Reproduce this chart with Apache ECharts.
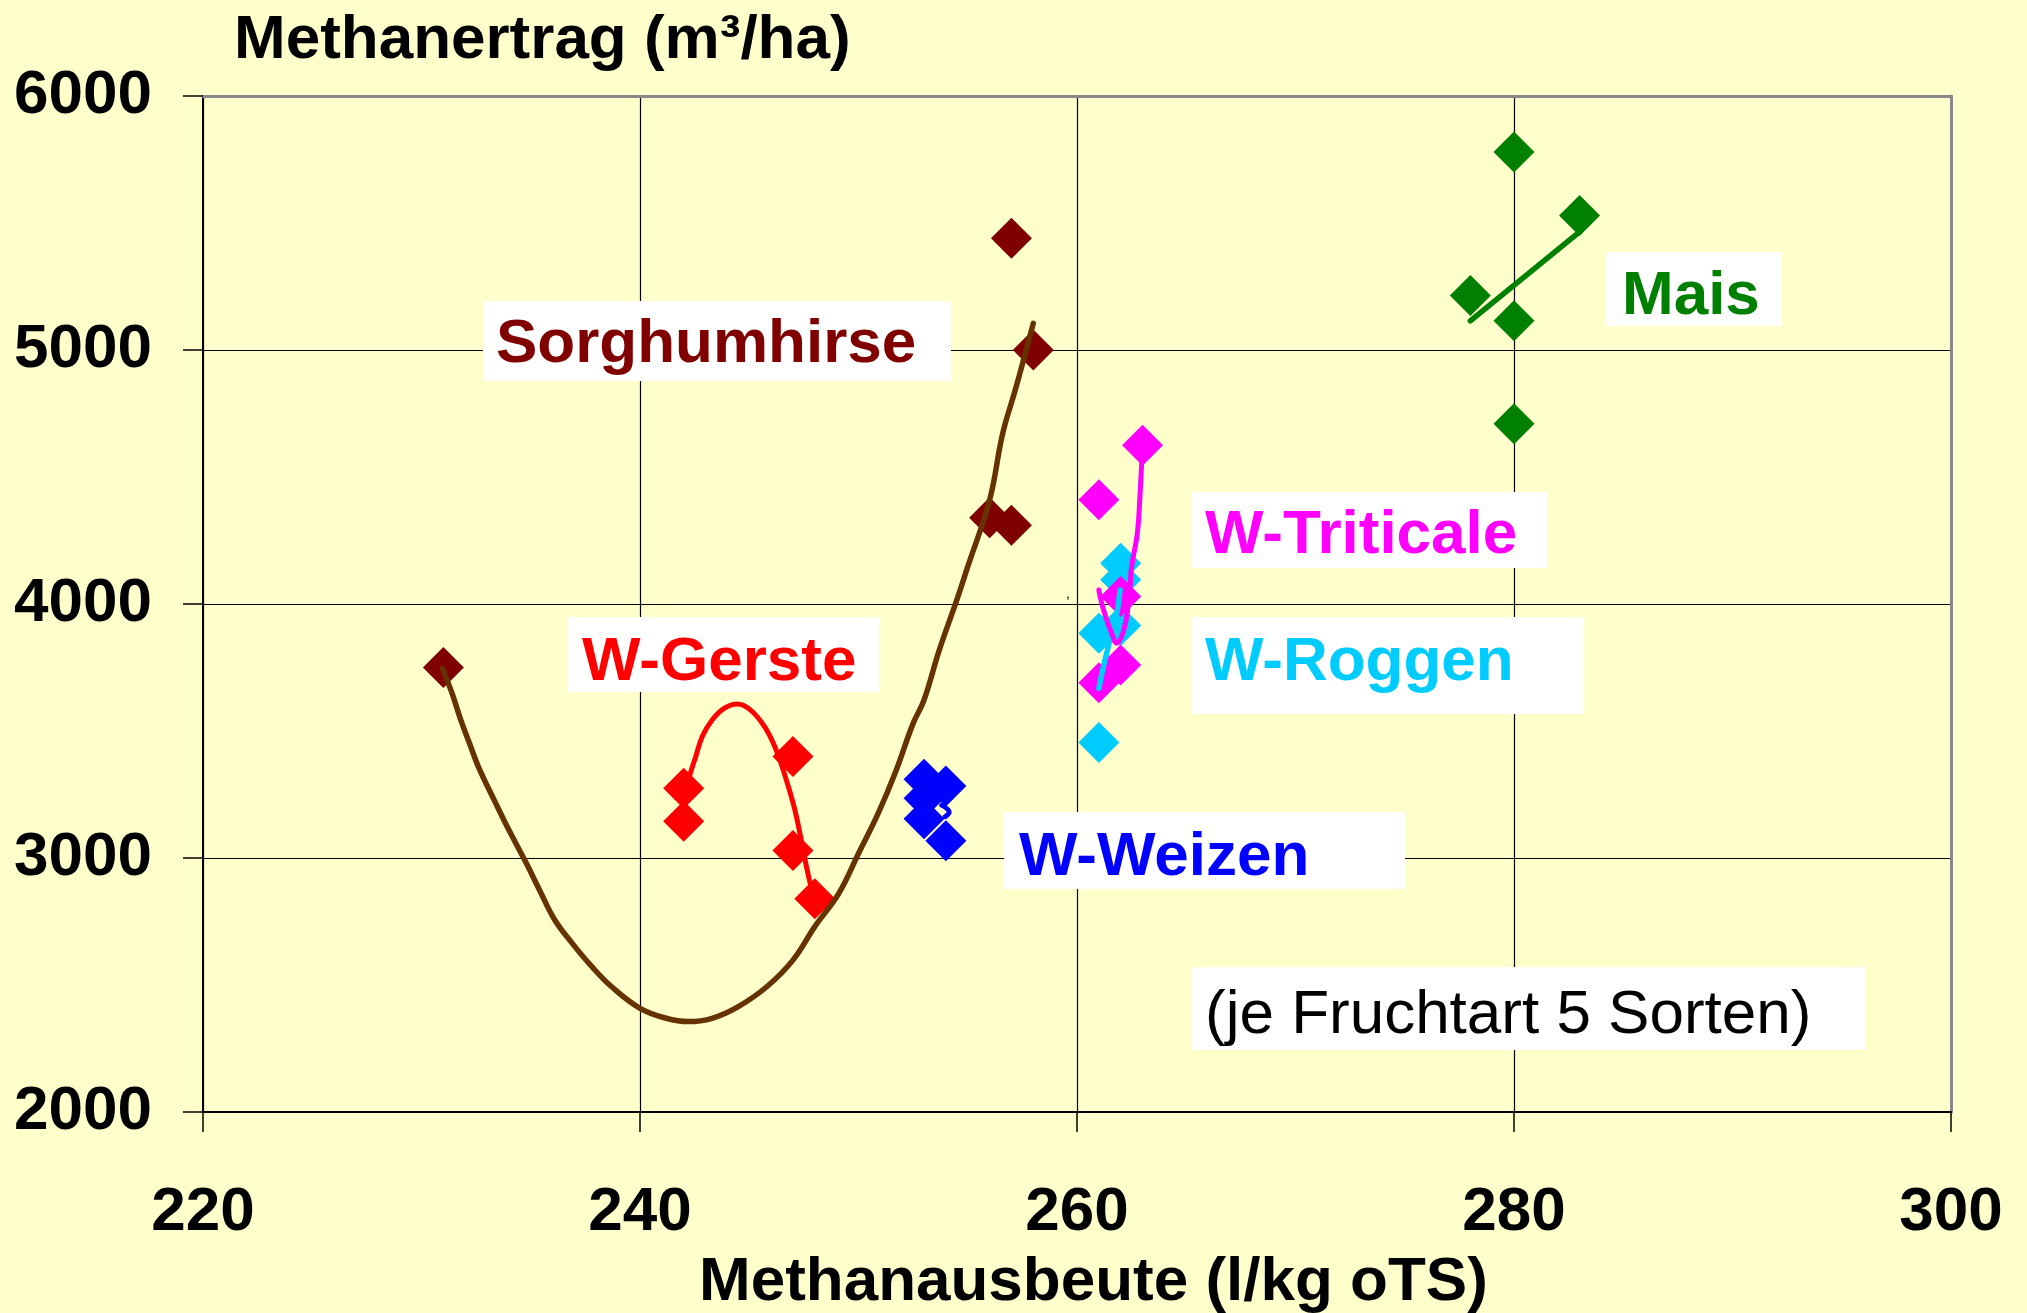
<!DOCTYPE html>
<html>
<head>
<meta charset="utf-8">
<script src="https://cdn.jsdelivr.net/npm/echarts@6/dist/echarts.min.js"></script>
<style>
html,body{margin:0;padding:0;background:#FFFFCC;}
#chart{width:2027px;height:1313px;}
</style>
</head>
<body>
<div id="chart"></div>
<script>
// ---------- data ----------
const xTicks = [220, 240, 260, 280, 300];
const yTicks = [2000, 3000, 4000, 5000, 6000];

const sorghumX = [231, 257, 258, 256, 257];
const sorghumY = [3750, 5440, 5000, 4340, 4310];
const gersteX = [242, 242, 247, 247, 248];
const gersteY = [3275, 3145, 3400, 3030, 2840];
const weizenX = [253, 254, 253, 253, 254];
const weizenY = [3310, 3283, 3235, 3155, 3068];
const roggenX = [262, 262, 261, 262, 261];
const roggenY = [4160, 4095, 3885, 3915, 3455];
const triticaleX = [263, 261, 262, 262, 261];
const triticaleY = [4625, 4410, 4030, 3760, 3690];
const maisX = [280, 283, 278, 280, 280];
const maisY = [5780, 5530, 5215, 5115, 4710];

// trend lines
const sorghumTrendX = [230.95,231.4,231.8,232.2,232.6,233.4,234.0,234.8,235.4,236.1,236.9,237.8,238.7,240.0,241.2,242.2,243.3,244.5,245.8,247.0,248.0,249.1,250.0,250.9,251.7,252.5,253.0,253.7,254.5,255.0,256.0,256.6,257.2,258.0];
const sorghumTrendY = [3747,3648,3543,3451,3360,3215,3110,2979,2874,2756,2664,2572,2493,2408,2369,2356,2369,2415,2493,2598,2730,2861,3018,3176,3340,3530,3622,3819,4016,4147,4409,4672,4850,5105];
const gersteTrendX = [242.0,242.3,242.55,242.85,243.3,243.85,244.45,245.05,245.7,246.2,246.65,247.05,247.35,247.65,247.9,248.0];
const gersteTrendY = [3240,3333,3399,3478,3543,3589,3606,3583,3517,3432,3320,3202,3084,2953,2861,2830];
const weizenTrendX = [253.81,254.15,253.97];
const weizenTrendY = [3208,3180,3163];
const triticaleTrendX = [261.0,261.13,261.36,261.59,261.82,262.09,262.3,262.43,262.5,262.76,262.88,262.96,263.0];
const triticaleTrendY = [4055,4003,3937,3884,3845,3884,3963,4068,4147,4278,4422,4554,4610];
const roggenTrendX = [261.0,261.28,261.59,261.82,261.97];
const roggenTrendY = [3668,3780,3884,3963,4055];
const maisTrendX = [278, 283];
const maisTrendY = [5115, 5465];

// ---------- chart ----------
const FF = '"Liberation Sans", Arial, Helvetica, sans-serif';
const zip = (xs, ys) => xs.map((x, i) => [x, ys[i]]);

function scatter(name, xs, ys, color) {
  return { name, type: 'scatter', data: zip(xs, ys), symbol: 'diamond', symbolSize: 41,
    itemStyle: { color, opacity: 1 }, z: 2, silent: true };
}
function trend(name, xs, ys, color, width, smooth) {
  return { name, type: 'line', data: zip(xs, ys), showSymbol: false, symbol: 'none',
    smooth: smooth, lineStyle: { color, width, cap: 'round', join: 'round' }, z: 3, silent: true };
}

function label(x, y, w, h, tx, ty, text, color, weight) {
  return [
    { type: 'rect', z: 100, shape: { x, y, width: w, height: h }, style: { fill: '#FFFFFF' } },
    { type: 'text', z: 101, x: tx, y: ty,
      style: { text, fill: color, fontSize: 62, fontWeight: weight, fontFamily: FF,
               textAlign: 'left', textVerticalAlign: 'middle', align: 'left', verticalAlign: 'middle' } }
  ];
}

const chart = echarts.init(document.getElementById('chart'), null, { renderer: 'canvas' });
chart.setOption({
  animation: false,
  backgroundColor: '#FFFFCC',
  grid: { left: 203, right: 76, top: 96, bottom: 201, containLabel: false, outerBoundsMode: 'none' },
  xAxis: [{
    type: 'value', min: xTicks[0], max: xTicks[xTicks.length - 1], interval: xTicks[1] - xTicks[0],
    position: 'bottom',
    axisLine: { show: true, onZero: false, lineStyle: { color: '#000', width: 2 } },
    axisTick: { show: true, inside: false, length: 20, lineStyle: { color: '#000', width: 1.5 } },
    axisLabel: { show: true, margin: 70, fontSize: 62, fontWeight: 'bold', color: '#000', fontFamily: FF,
                 formatter: v => String(v) },
    splitLine: { show: true, lineStyle: { color: '#000', width: 1.2 } }
  }, {
    type: 'value', min: xTicks[0], max: xTicks[xTicks.length - 1], position: 'top',
    axisLine: { show: true, onZero: false, lineStyle: { color: '#888', width: 3 } },
    axisTick: { show: false }, axisLabel: { show: false }, splitLine: { show: false }
  }],
  yAxis: [{
    type: 'value', min: yTicks[0], max: yTicks[yTicks.length - 1], interval: yTicks[1] - yTicks[0],
    position: 'left',
    axisLine: { show: true, onZero: false, lineStyle: { color: '#000', width: 2 } },
    axisTick: { show: true, inside: false, length: 20, lineStyle: { color: '#000', width: 1.5 } },
    axisLabel: { show: true, margin: 51, fontSize: 62, fontWeight: 'bold', color: '#000', fontFamily: FF,
                 formatter: v => String(v) },
    splitLine: { show: true, lineStyle: { color: '#000', width: 1.2 } }
  }, {
    type: 'value', min: yTicks[0], max: yTicks[yTicks.length - 1], position: 'right',
    axisLine: { show: true, onZero: false, lineStyle: { color: '#888', width: 3 } },
    axisTick: { show: false }, axisLabel: { show: false }, splitLine: { show: false }
  }],
  series: [
    scatter('Sorghumhirse', sorghumX, sorghumY, '#800000'),
    scatter('W-Gerste', gersteX, gersteY, '#FF0000'),
    scatter('W-Weizen', weizenX, weizenY, '#0000FF'),
    scatter('W-Roggen', roggenX, roggenY, '#00CCFF'),
    scatter('W-Triticale', triticaleX, triticaleY, '#FF00FF'),
    scatter('Mais', maisX, maisY, '#008000'),
    trend('Trend Sorghumhirse', sorghumTrendX, sorghumTrendY, '#663300', 5.5, 0.4),
    trend('Trend W-Gerste', gersteTrendX, gersteTrendY, '#FF0000', 5, 0.4),
    trend('Trend W-Weizen', weizenTrendX, weizenTrendY, '#0000FF', 5, 0.4),
    trend('Trend W-Roggen', roggenTrendX, roggenTrendY, '#00CCFF', 5.5, 0.4),
    trend('Trend W-Triticale', triticaleTrendX, triticaleTrendY, '#FF00FF', 5, 0.4),
    trend('Trend Mais', maisTrendX, maisTrendY, '#008000', 5.5, false)
  ],
  graphic: [
    { type: 'text', z: 101, x: 234, y: 41,
      style: { text: 'Methanertrag (m³/ha)', fill: '#000', fontSize: 62, fontWeight: 'bold', fontFamily: FF,
               textAlign: 'left', textVerticalAlign: 'middle', align: 'left', verticalAlign: 'middle' } },
    { type: 'text', z: 101, x: 699, y: 1283,
      style: { text: 'Methanausbeute (l/kg oTS)', fill: '#000', fontSize: 62, fontWeight: 'bold', fontFamily: FF,
               textAlign: 'left', textVerticalAlign: 'middle', align: 'left', verticalAlign: 'middle' } },
    { type: 'text', z: 101, x: 1066, y: 594,
      style: { text: ',', fill: '#000', fontSize: 14, fontFamily: FF,
               textAlign: 'left', textVerticalAlign: 'middle', align: 'left', verticalAlign: 'middle' } },
    ...label(483, 301, 468, 80, 496, 345, 'Sorghumhirse', '#800000', 'bold'),
    ...label(568, 617, 311, 75, 582, 663, 'W-Gerste', '#FF0000', 'bold'),
    ...label(1004, 812, 401, 77, 1019, 858, 'W-Weizen', '#0000FF', 'bold'),
    ...label(1192, 492, 355, 76, 1205, 536, 'W-Triticale', '#FF00FF', 'bold'),
    ...label(1192, 617, 392, 97, 1205, 663, 'W-Roggen', '#00CCFF', 'bold'),
    ...label(1606, 252, 175, 74, 1622, 297, 'Mais', '#008000', 'bold'),
    ...label(1192, 967, 673, 83, 1205, 1016, '(je Fruchtart 5 Sorten)', '#000', 'normal')
  ]
});
</script>
</body>
</html>
